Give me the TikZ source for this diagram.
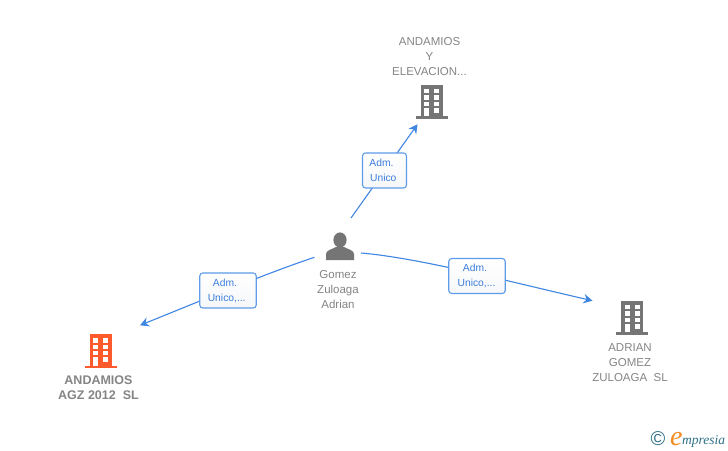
\documentclass[tikz,border=0pt]{standalone}
\usepackage{fontspec}
\setmainfont{Liberation Sans}
\newfontfamily\logofont{Liberation Serif}
\definecolor{linkblue}{HTML}{3F86E3}
\definecolor{boxblue}{HTML}{5E9BE8}
\definecolor{txtblue}{HTML}{3B7DDB}
\definecolor{grayicon}{HTML}{757575}
\definecolor{graytxt}{HTML}{858585}
\definecolor{orangeicon}{HTML}{FF5A2B}
\definecolor{logoteal}{HTML}{2F7088}
\definecolor{logoorange}{HTML}{F58A1F}
\definecolor{boxshade}{HTML}{F6F7F9}
\usetikzlibrary{arrows.meta}
\tikzset{
  x=1pt,y=-1pt,
  link/.style={draw=linkblue,line width=1.1pt,-{Stealth[length=9pt,width=9.5pt,inset=3pt]}},
  rolebox/.style={draw=boxblue,line width=1.1pt,rounded corners=3pt,top color=white,bottom color=boxshade,
    text=txtblue,align=center,font=\fontsize{10.3}{15}\selectfont,inner sep=0pt,minimum width=44pt,minimum height=35pt},
  wide/.style={minimum width=56.5pt},
  nametxt/.style={text=graytxt,align=center,font=\fontsize{11.5}{15}\selectfont,inner sep=0pt},
  pics/building/.style={code={
    \fill[#1] (-11,-34) rectangle (11,-1);
    \fill[#1] (-16,-2.5) rectangle (16,0);
    \foreach \r in {-29.7,-23.3,-17}{
      \fill[white] (-7.3,\r) rectangle (-2.5,\r+4.4);
      \fill[white] (2.8,\r) rectangle (7.5,\r+4.4);
    }
    \fill[white] (-7.3,-10.7) rectangle (-2.5,-2.3);
    \fill[white] (2.8,-10.7) rectangle (7.5,-6);
  }}
}
\begin{document}
\begin{tikzpicture}
\useasboundingbox (0,0) rectangle (728,450);
\fill[white] (0,0) rectangle (728,450);
% icons
\pic at (431.5,118.7) {building=grayicon};
\pic at (632,334.7) {building=grayicon};
\pic at (100.5,368) {building=orangeicon};
\coordinate (pstart1) at (351,218);
\coordinate (pend1) at (417.5,124.3);
\coordinate (pstart2) at (314.5,257.3);
\coordinate (pend2) at (140,325.3);
\coordinate (pstart3) at (361,253);
\coordinate (pend3) at (592.5,300.7);
% person
\fill[grayicon] (340,240) ellipse (6.6 and 7.6);
\fill[grayicon] (326,260) -- (326,254) .. controls (326,250) and (333,249) .. (336,247) -- (344,247) .. controls (347,249) and (354,250) .. (354,254) -- (354,260) -- cycle;
% connectors
\draw[link] (pstart1) -- (pend1);
\draw[link] (pstart2) .. controls (270,272) and (210,297) .. (pend2);
\draw[link] (pstart3) .. controls (420,258) and (515,283) .. (pend3);
% role boxes
\node[rolebox] (r1) at (384.5,170.5) {Adm.\hspace*{6pt}\\Unico\hspace*{2.5pt}};
\node[rolebox,wide] (r2) at (228,290.5) {\raisebox{-0.8pt}{Adm.}\hspace*{6pt}\\\raisebox{-0.8pt}{Unico,...}\hspace*{2.6pt}};
\node[rolebox,wide] (r3) at (477,276) {Adm.\hspace*{4pt}\\Unico,...\hspace*{1pt}};
% names
\node[nametxt] (n1) at (429.5,57) {ANDAMIOS\\Y\\ELEVACION...};
\node[nametxt] (n2) at (630,362.5) {ADRIAN\\GOMEZ\\ZULOAGA\ \ SL};
\node[nametxt,font=\fontsize{12.5}{15}\selectfont\bfseries] (n3) at (98.5,387.5) {ANDAMIOS\\AGZ 2012\hspace{7pt}SL};
\node[nametxt] (n4) at (338,289.7) {Gomez\\Zuloaga\\Adrian};
% logo
\node[text=logoteal,inner sep=0pt,font=\fontsize{20}{20}\selectfont] (c) at (658,439) {©};
\node[anchor=base west,inner sep=0pt,text=logoorange,font=\logofont\itshape\fontsize{28}{28}\selectfont] (e) at (670,445) {e};
\node[anchor=base west,inner sep=0pt,text=logoteal,font=\logofont\itshape\fontsize{13.5}{14}\selectfont] (m) at (682,444) {mpresia};
\end{tikzpicture}
\end{document}
